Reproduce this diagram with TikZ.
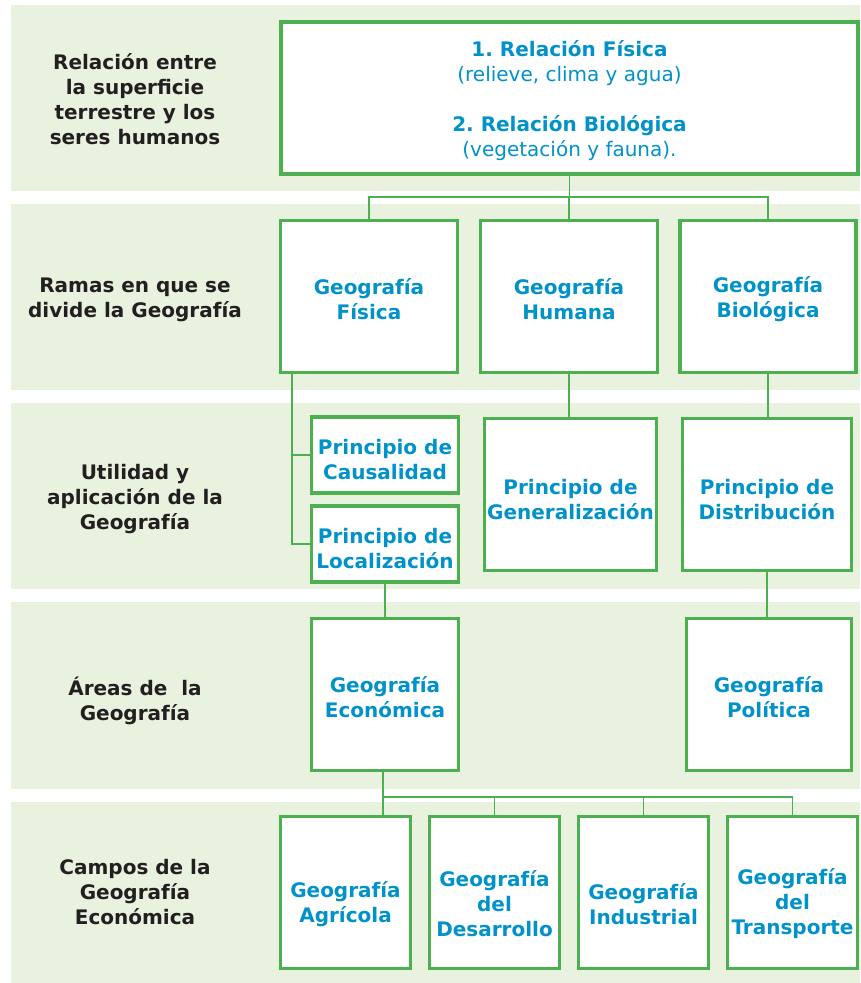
\documentclass[tikz,border=0pt]{standalone}
\usepackage{fontspec}
\setmainfont{DejaVu Sans}
\definecolor{bandgreen}{RGB}{232,242,222}
\definecolor{boxgreen}{RGB}{76,175,80}
\definecolor{textblue}{RGB}{0,146,200}
\definecolor{textdark}{RGB}{35,31,32}
\begin{document}
\begin{tikzpicture}[x=1pt,y=-1pt]
		\newcommand{\bandx}{11} % left edge of the bands
		\newcommand{\bandw}{860}
		\newcommand{\labx}{135} % centre of the row labels
		\newcommand{\rowstrut}{\rule{0pt}{21pt}} % struts push a text block down
		\newcommand{\prinstrut}{\rule{0pt}{25pt}}
		\newcommand{\lowstrut}{\rule{0pt}{39pt}}

		% set the styles of boxes and links
		\tikzset{
			box/.style={
				draw=boxgreen,
				line width=3.5pt,
				fill=white,
				inner sep=0pt,
				align=center,
				text=textblue,
				font=\fontsize{20}{25}\selectfont\bfseries
				},
			rowlabel/.style={
				align=center,
				text=textdark,
				font=\fontsize{20}{25}\selectfont\bfseries
				},
			link/.style={
				draw=boxgreen,
				line width=1.6pt
				}
		}
		\useasboundingbox (0,0) rectangle (860,983);

		% bands
		\fill[bandgreen] (\bandx,5) rectangle (\bandw,191);
		\fill[bandgreen] (\bandx,204) rectangle (\bandw,390);
		\fill[bandgreen] (\bandx,403) rectangle (\bandw,589);
		\fill[bandgreen] (\bandx,602) rectangle (\bandw,789);
		\fill[bandgreen] (\bandx,802) rectangle (\bandw,983);

		% row labels
		\node[rowlabel] (lab1) at (\labx,99.5) {Relación entre\\la superficie\\terrestre y los\\seres humanos};
		\node[rowlabel] (lab2) at (\labx,299.5) {Ramas en que se\\divide la Geografía};
		\node[rowlabel] (lab3) at (\labx,499) {Utilidad y\\aplicación de la\\Geografía};
		\node[rowlabel] (lab4) at (\labx,700.5) {Áreas de\ \ la\\Geografía};
		\node[rowlabel] (lab5) at (\labx,892) {Campos de la\\Geografía\\Económica};

		% relation box
		\node[box, minimum width=577, minimum height=152] (relacion) at (569.5,98)
			{\rowstrut 1.\ Relación Física\\{\mdseries (relieve, clima y agua)}\\[25pt]
			 2.\ Relación Biológica\\{\mdseries (vegetación y fauna).}};

		% branches
		\node[box, minimum width=177, minimum height=152] (fisica) at (369,296.5) {\rowstrut Geografía\\Física};
		\node[box, minimum width=177, minimum height=152] (humana) at (569,296.5) {\rowstrut Geografía\\Humana};
		\node[box, minimum width=176, minimum height=152] (biologica) at (768,296.5) {\rowstrut Geografía\\Biológica};

		% principles
		\node[box, minimum width=147, minimum height=76] (causal) at (385,455) {\prinstrut Principio de\\Causalidad};
		\node[box, minimum width=147, minimum height=76] (local) at (385,544) {\prinstrut Principio de\\Localización};
		\node[box, minimum width=172, minimum height=152] (general) at (570.5,494.5) {\prinstrut Principio de\\Generalización};
		\node[box, minimum width=169, minimum height=152] (distrib) at (767,494.5) {\prinstrut Principio de\\Distribución};

		% areas
		\node[box, minimum width=147, minimum height=152] (economica) at (385,694.5) {\rowstrut Geografía\\Económica};
		\node[box, minimum width=165, minimum height=152] (politica) at (769,694.5) {\rowstrut Geografía\\Política};

		% fields
		\node[box, minimum width=130, minimum height=152] (agricola) at (345.5,892.5) {\lowstrut Geografía\\Agrícola};
		\node[box, minimum width=130, minimum height=152] (desarrollo) at (494.5,892.5) {\lowstrut Geografía\\del\\Desarrollo};
		\node[box, minimum width=130, minimum height=152] (industrial) at (643.5,892.5) {\lowstrut Geografía\\Industrial};
		\node[box, minimum width=130, minimum height=152] (transporte) at (792.5,892.5) {\lowstrut Geografía\\del\\Transporte};

		% links
		\coordinate (relbus) at (569.5,197);
		\coordinate (ftrunk) at (292,374);
		\coordinate (ebus) at (383,797);
		\draw[link] (relacion.south) -- (relbus);
		\draw[link] (relbus) -| (fisica.north);
		\draw[link] (relbus) -| (humana.north);
		\draw[link] (relbus) -| (biologica.north);
		\draw[link] (ftrunk) |- (causal.west);
		\draw[link] (ftrunk) |- (local.west);
		\draw[link] (humana.south) -- (humana.south |- general.north);
		\draw[link] (biologica.south) -- (biologica.south |- distrib.north);
		\draw[link] (local.south) -- (economica.north);
		\draw[link] (distrib.south) -- (distrib.south |- politica.north);
		\draw[link] (economica.south -| ebus) -- (ebus);
		\draw[link] (ebus) -- (ebus |- agricola.north);
		\draw[link] (ebus) -| (desarrollo.north);
		\draw[link] (ebus) -| (industrial.north);
		\draw[link] (ebus) -| (transporte.north);
\end{tikzpicture}
\end{document}
